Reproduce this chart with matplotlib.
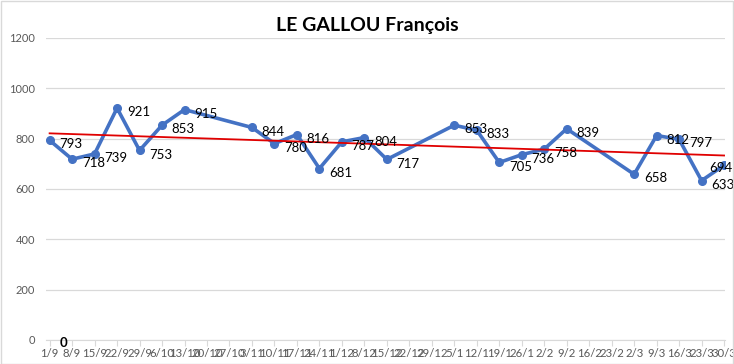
import matplotlib.pyplot as plt
import numpy as np

# weekly dates (day/month), one category per week
dates = ["1/9", "8/9", "15/9", "22/9", "29/9", "6/10", "13/10", "20/10", "27/10",
         "3/11", "10/11", "17/11", "24/11", "1/12", "8/12", "15/12", "22/12", "29/12",
         "5/1", "12/1", "19/1", "26/1", "2/2", "9/2", "16/2", "23/2", "2/3", "9/3",
         "16/3", "23/3", "30/3"]
scores = [793, 718, 739, 921, 753, 853, 915, None, None,
          844, 780, 816, 681, 787, 804, 717, None, None,
          853, 833, 705, 736, 758, 839, None, None, 658, 812,
          797, 633, 694]
# second series: a single zero at the first date
zero_series = [0]

plt.rcParams['font.family'] = ['Lato', 'DejaVu Sans']

fig = plt.figure(figsize=(7.34, 3.64), dpi=100)
ax = fig.add_axes([0.063, 0.066, 0.925, 0.830])

x = np.array([i for i, v in enumerate(scores) if v is not None])
y = np.array([v for v in scores if v is not None], dtype=float)

ax.plot(x, y, color="#4472C4", linewidth=2.6, marker="o", markersize=5.5, zorder=3)

# linear trend line (Excel style)
coef = np.polyfit(x + 1, y, 1)
xt = np.array([0, len(dates) - 1])
ax.plot(xt, np.polyval(coef, xt + 1), color="#E00000", linewidth=1.3, zorder=4)

for k, (xi, yi) in enumerate(zip(x, y)):
    if k == len(x) - 1:
        # last label is pushed back inside the chart
        ax.annotate(f"{int(yi)}", (xi, yi), xytext=(6, -2), textcoords="offset points",
                    ha="right", va="center", fontsize=9.5, color="black", zorder=5)
    else:
        ax.annotate(f"{int(yi)}", (xi, yi), xytext=(7, -3), textcoords="offset points",
                    ha="left", va="center", fontsize=9.5, color="black", zorder=5)

for i, v in enumerate(zero_series):
    ax.annotate(f"{v}", (i, v), xytext=(7, -2), textcoords="offset points",
                ha="left", va="center", fontsize=9.5, fontweight="bold", color="black")

ax.set_xlim(-0.15, len(dates) - 1 + 0.05)
ax.set_ylim(0, 1200)
ax.set_yticks(range(0, 1201, 200))
ax.set_xticks(range(len(dates)))
ax.set_xticklabels(dates)
ax.tick_params(axis="x", labelsize=8.2, labelcolor="#595959", length=4, width=0.8,
               direction="out", pad=2, color="#D9D9D9")
ax.tick_params(axis="y", labelsize=8, colors="#595959", length=0, pad=8)
ax.grid(axis="y", color="#D9D9D9", linewidth=0.9)
ax.set_axisbelow(True)
for s in ["top", "right", "left"]:
    ax.spines[s].set_visible(False)
ax.spines["bottom"].set_color("#D9D9D9")

fig.text(0.5, 0.93, "LE GALLOU François", ha="center", va="center",
         fontsize=14, fontweight="bold", color="black")

# light frame around the chart
fig.patches.append(plt.Rectangle((0.001, 0.001), 0.997, 0.996, transform=fig.transFigure,
                                 fill=False, edgecolor="#D9D9D9", linewidth=1))

fig.savefig("out.png", dpi=100)
